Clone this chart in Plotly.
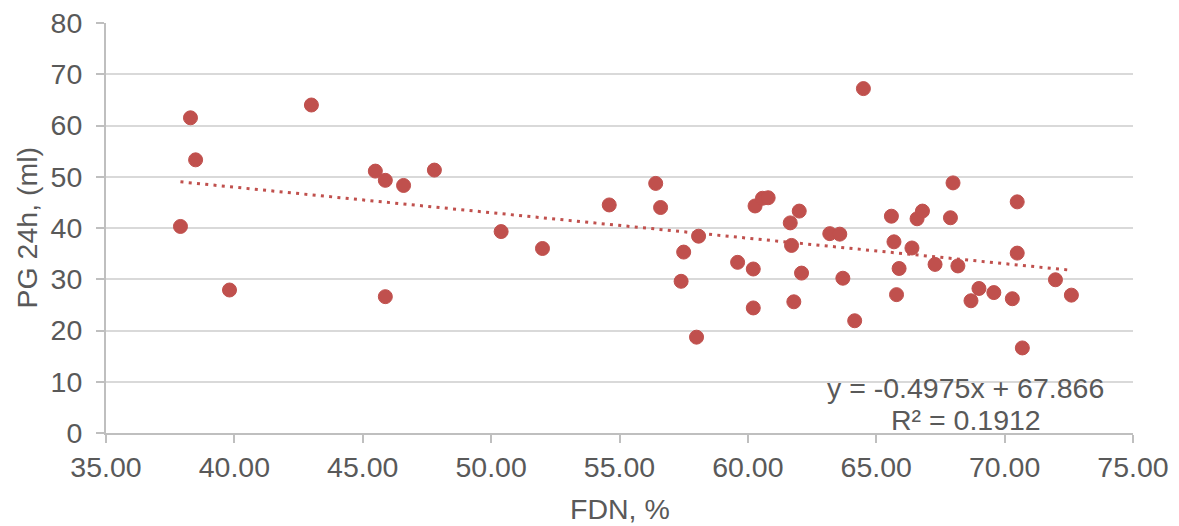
import plotly.graph_objects as go

# Data
fdn = [37.90, 38.29, 38.49, 39.81, 43.00, 45.49, 45.88, 46.59, 45.88, 47.79,
       50.39, 52.00, 54.60, 56.41, 56.60, 58.08, 57.50, 57.40, 58.00, 59.60,
       60.21, 60.21, 60.28, 60.57, 60.79, 61.65, 62.00, 61.70, 62.09, 61.79,
       64.50, 63.19, 63.58, 63.70, 64.16, 65.59, 65.69, 65.89, 65.79, 66.39,
       66.59, 66.80, 67.29, 67.89, 67.99, 68.18, 68.69, 69.00, 69.58, 70.30,
       70.49, 70.49, 70.69, 71.98, 72.60]
pg24 = [40.3, 61.5, 53.3, 27.9, 64.0, 51.1, 49.3, 48.3, 26.6, 51.3,
        39.3, 36.0, 44.5, 48.7, 44.0, 38.4, 35.3, 29.6, 18.7, 33.3,
        32.0, 24.4, 44.3, 45.8, 45.9, 41.0, 43.3, 36.6, 31.2, 25.6,
        67.2, 38.9, 38.8, 30.2, 21.9, 42.3, 37.3, 32.1, 27.0, 36.1,
        41.8, 43.3, 32.9, 42.0, 48.8, 32.6, 25.8, 28.2, 27.4, 26.2,
        45.1, 35.1, 16.6, 29.9, 26.9]

TREND_SLOPE = -0.4975
TREND_INTERCEPT = 67.866
eq_text = "y = -0.4975x + 67.866"
r2_text = "R² = 0.1912"

x_title = "FDN, %"
y_title = "PG 24h, (ml)"

RED = "#c0504d"
TXT = "#595959"
FONT = "Liberation Sans, Arial, sans-serif"
FS = 28.5

trend_x = [min(fdn), max(fdn)]
trend_y = [TREND_SLOPE * v + TREND_INTERCEPT for v in trend_x]

fig = go.Figure()
fig.add_trace(go.Scatter(
    x=trend_x, y=trend_y, mode="lines",
    line=dict(color=RED, width=3, dash="3px,5.3px"),
    hoverinfo="skip", showlegend=False))
fig.add_trace(go.Scatter(
    x=fdn, y=pg24, mode="markers",
    marker=dict(color=RED, size=14, line=dict(color=RED, width=1)),
    showlegend=False))

fig.add_annotation(x=68.48, y=8.85, xref="x", yref="y", text=eq_text,
                   showarrow=False, font=dict(family=FONT, size=FS, color=TXT))
fig.add_annotation(x=68.48, y=2.6, xref="x", yref="y", text=r2_text,
                   showarrow=False, font=dict(family=FONT, size=FS, color=TXT))

# axis titles
fig.add_annotation(x=0.5, y=-0.1864, xref="paper", yref="paper", text=x_title,
                   showarrow=False, xanchor="center", yanchor="middle",
                   font=dict(family=FONT, size=FS, color=TXT))
fig.add_annotation(x=-0.0774, y=0.5, xref="paper", yref="paper", text=y_title,
                   showarrow=False, xanchor="center", yanchor="middle", textangle=-90,
                   font=dict(family=FONT, size=FS, color=TXT))

fig.update_layout(
    width=1179, height=526,
    margin=dict(l=105.5, r=46, t=23, b=92.5),
    paper_bgcolor="white", plot_bgcolor="white",
    font=dict(family=FONT, size=FS, color=TXT),
    xaxis=dict(range=[35, 75], dtick=5, tick0=35, tickformat=".2f",
               showgrid=False, zeroline=False, automargin=False,
               showline=True, linecolor="#bfbfbf", linewidth=2,
               ticks="outside", ticklen=8, tickcolor="#bfbfbf", tickwidth=2,
               tickfont=dict(size=FS, color=TXT)),
    yaxis=dict(range=[0, 80], dtick=10, tick0=0,
               showgrid=True, gridcolor="#d9d9d9", gridwidth=2,
               zeroline=False, automargin=False,
               showline=True, linecolor="#bfbfbf", linewidth=2,
               ticks="outside", ticklen=8, tickcolor="#bfbfbf", tickwidth=2,
               ticklabelstandoff=8,
               tickfont=dict(size=FS, color=TXT)),
)

fig.write_html("out.html")
